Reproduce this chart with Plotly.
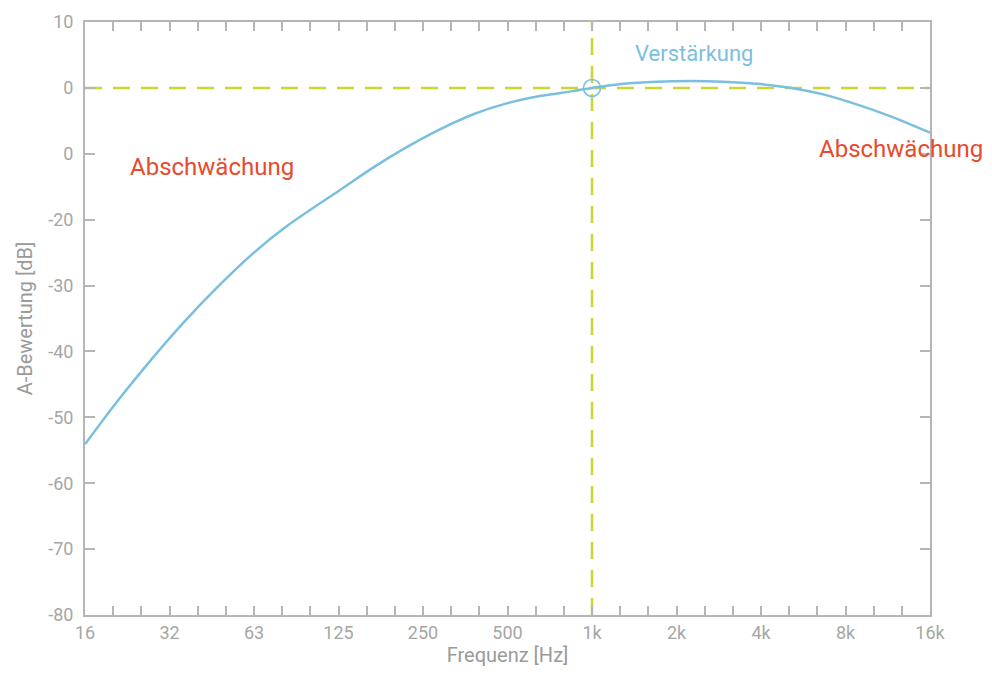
import math
import plotly.graph_objects as go

# Curve (frequency in Hz, A-weighting in dB)
freq = [16, 21.1, 27.6, 36.3, 47.8, 62.8, 82.5, 129.6, 170, 224, 294, 387, 508, 668, 878,
        1024, 1324, 1741, 2288, 3006, 3952, 5194, 6826, 8972, 11794, 16384]
gain_db = [-54.1, -47.3, -41.2, -35.4, -30.1, -25.3, -21.2, -15.5, -12.1, -9.0, -6.3,
           -4.0, -2.35, -1.24, -0.49, 0.0, 0.64, 0.94, 1.03, 0.94, 0.64, 0.03, -0.99, -2.5,
           -4.28, -6.8]

# Octave tick labels
octave_vals = [16 * 2 ** k for k in range(11)]
octave_text = ["16", "32", "63", "125", "250", "500", "1k", "2k", "4k", "8k", "16k"]
third_vals = [16 * 2 ** (k / 3) for k in range(31)]

y_vals = [10, 0, -10, -20, -30, -40, -50, -60, -70, -80]
y_text = ["10", "0", "0", "-20", "-30", "-40", "-50", "-60", "-70", "-80"]

ref_freq = 1024
ref_db = 0

GREEN = "#c9d730"
BLUE = "#7bbfe0"
RED = "#e84a2c"
AXIS = "#b5b5b5"
LABEL = "#a6a6a6"
FONT = "Roboto"

x_ticktext = []
for v in third_vals:
    lab = ""
    for ov, ot in zip(octave_vals, octave_text):
        if abs(v - ov) / ov < 1e-6:
            lab = ot
    x_ticktext.append(lab)

fig = go.Figure()

fig.add_trace(go.Scatter(x=[freq[0], freq[-1]], y=[ref_db, ref_db], mode="lines",
                         line=dict(color=GREEN, width=2.5, dash="17px,11px"),
                         hoverinfo="skip", showlegend=False))
fig.add_trace(go.Scatter(x=[ref_freq, ref_freq], y=[y_vals[-1], y_vals[0]], mode="lines",
                         line=dict(color=GREEN, width=2.5, dash="17px,11px"),
                         hoverinfo="skip", showlegend=False))

fig.add_trace(go.Scatter(x=freq, y=gain_db, mode="lines",
                         line=dict(color=BLUE, width=2.5, shape="spline", smoothing=1.0),
                         showlegend=False))

fig.add_trace(go.Scatter(x=[ref_freq], y=[ref_db], mode="markers",
                         marker=dict(symbol="circle-open", size=17, color=BLUE,
                                     line=dict(width=1.5, color=BLUE)),
                         showlegend=False))

fig.add_annotation(x=math.log10(45.3), y=-12.0, xref="x", yref="y", text="Abschwächung",
                   showarrow=False, font=dict(family=FONT, size=24, color=RED))
fig.add_annotation(x=math.log10(2364), y=5.2, xref="x", yref="y", text="Verstärkung",
                   showarrow=False, font=dict(family=FONT, size=22, color=BLUE))
fig.add_annotation(x=1.065, y=-9.3, xref="paper", yref="y", xanchor="right",
                   text="Abschwächung", showarrow=False,
                   font=dict(family=FONT, size=24, color=RED))

fig.update_xaxes(type="log", range=[math.log10(16), math.log10(16384)],
                 tickvals=third_vals, ticktext=x_ticktext,
                 ticks="inside", ticklen=9, tickwidth=1.5, tickcolor=AXIS,
                 showline=True, linecolor=AXIS, linewidth=2, mirror="ticks",
                 showgrid=False, zeroline=False,
                 tickfont=dict(family=FONT, size=18, color=LABEL),
                 title=dict(text="Frequenz [Hz]", font=dict(family=FONT, size=20, color="#9a9a9a"),
                            standoff=6))
fig.update_yaxes(range=[-80, 10], tickvals=y_vals, ticktext=y_text,
                 ticks="inside", ticklen=10, tickwidth=1.5, tickcolor=AXIS,
                 showline=True, linecolor=AXIS, linewidth=2, mirror="ticks",
                 showgrid=False, zeroline=False, ticklabelstandoff=6,
                 tickfont=dict(family=FONT, size=18, color=LABEL),
                 title=dict(text="A-Bewertung [dB]", font=dict(family=FONT, size=20, color="#9a9a9a"),
                            standoff=10))

fig.update_layout(width=984, height=674, plot_bgcolor="white", paper_bgcolor="white",
                  margin=dict(l=77, r=62, t=14, b=67, autoexpand=False), showlegend=False)

fig.write_html("out.html")
